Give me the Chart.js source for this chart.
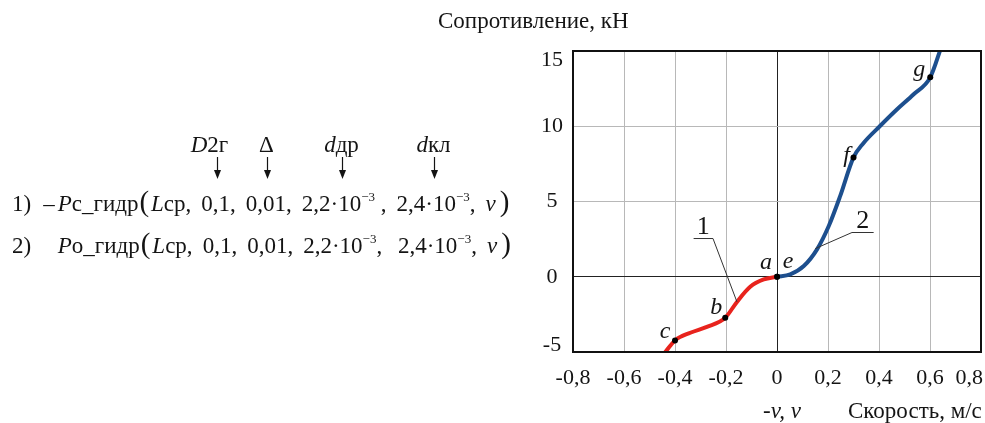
<!DOCTYPE html>
<html>
<head>
<meta charset="utf-8">
<script src="https://cdn.jsdelivr.net/npm/chart.js@4.4.1/dist/chart.umd.min.js"></script>
<style>
  body { margin: 0; background: #fff; }
  #hoja { position: relative; width: 985px; height: 423px; overflow: hidden;
          font-family: "Liberation Serif", "Times New Roman", serif; color: #141414; }
  #graf { position: absolute; left: 0; top: 0; }
  .fila { position: absolute; left: 12px; display: flex; align-items: baseline;
          font-size: 23px; line-height: 23px; white-space: pre; }
  .fila span { margin-left: 10px; }
  .fila span.pegado { margin-left: 0; }
  .fila .p { font-size: 29px; margin-left: 1px; }
  .oculto { visibility: hidden; }
  .cab { position: absolute; top: 133px; font-size: 23px; line-height: 23px; white-space: pre;
         transform: translateX(-50%); }
  sup { font-size: 13px; vertical-align: 10px; line-height: 0; }
  svg { position: absolute; left: 0; top: 0; }
</style>
</head>
<body>
<div id="hoja">
  <canvas id="graf" width="985" height="423"></canvas>

  <!-- строка 1 -->
  <div class="fila" id="fila1" style="top:190px">
    <span class="pegado">1)</span><span style="margin-left:12px">–</span><span style="margin-left:3px"><i>P</i>с_гидр</span><span class="p">(</span><span style="margin-left:2px"><i>L</i>ср,</span><span class="arg">0,1,</span><span class="arg">0,01,</span><span class="arg">2,2·10<sup>−3</sup> ,</span><span class="arg">2,4·10<sup>−3</sup>,</span><span><i>v</i></span><span class="p" style="margin-left:4px">)</span>
  </div>
  <!-- строка 2 -->
  <div class="fila" id="fila2" style="top:232px">
    <span class="pegado">2)</span><span class="oculto" style="margin-left:12px">–</span><span style="margin-left:3px"><i>P</i>о_гидр</span><span class="p">(</span><span style="margin-left:2px"><i>L</i>ср,</span><span>0,1,</span><span>0,01,</span><span>2,2·10<sup>−3</sup>,</span><span>2,4·10<sup>−3</sup>,</span><span><i>v</i></span><span class="p" style="margin-left:4px">)</span>
  </div>

  <!-- параметры функций над аргументами -->
  <div class="cab"><i>D</i>2г</div>
  <div class="cab">Δ</div>
  <div class="cab"><i>d</i>др</div>
  <div class="cab"><i>d</i>кл</div>
  <svg id="flechas" width="520" height="423"></svg>
</div>

<script>
// Кривая 1 — сопротивление при обратном ходе (-v), кН
var velRojo    = [-0.45, -0.438, -0.40, -0.34, -0.275, -0.203, -0.157, -0.105, -0.052, 0];
var fuerzaRojo = [-5.24, -5.0, -4.23, -3.72, -3.33, -2.72, -1.67, -0.67, -0.18, 0];
var letrasRojo = [null, null, "c", null, null, "b", null, null, null, "a"];

// Кривая 2 — сопротивление при прямом ходе (v), кН
var velAzul    = [0, 0.052, 0.105, 0.157, 0.203, 0.248, 0.300, 0.338, 0.403, 0.471, 0.536, 0.601, 0.645];
var fuerzaAzul = [0, 0.16, 0.71, 1.82, 3.37, 5.37, 7.93, 8.86, 10.0, 11.13, 12.13, 13.25, 15.3];
var letrasAzul = ["e", null, null, null, null, null, "f", null, null, null, null, "g", null];

// Деления осей
var ticksX = [-0.8, -0.6, -0.4, -0.2, 0, 0.2, 0.4, 0.6, 0.8];
var ticksY = [-5, 0, 5, 10, 15];

// Выноски с номерами кривых: точка на кривой, излом, конец полки
var vinNumeros = ["1", "2"];
var vinCurvaX  = [-0.157, 0.150];
var vinCurvaY  = [-1.67, 1.87];
var vinCodoX   = [-0.251, 0.294];
var vinCodoY   = [2.54, 2.94];
var vinFinX    = [-0.327, 0.379];

var serif = "'Liberation Serif', 'Times New Roman', serif";

// Вторая строка выравнивается по первой, заголовки и стрелки — над аргументами
(function () {
  var hoja = document.getElementById("hoja").getBoundingClientRect();
  var f1 = document.querySelectorAll("#fila1 > span");
  var f2 = document.querySelectorAll("#fila2 > span");
  f1.forEach(function (el, i) {
    f2[i].style.minWidth = el.getBoundingClientRect().width + "px";
  });

  var args = document.querySelectorAll("#fila1 .arg");
  var cabs = document.querySelectorAll(".cab");
  var svg = document.getElementById("flechas");
  var html = "";
  args.forEach(function (el, i) {
    var r = el.getBoundingClientRect();
    var cx = Math.round(r.left - hoja.left + r.width / 2 - 2) + 0.5;
    cabs[i].style.left = (cx - (i === 0 ? 8 : 1)) + "px";
    html += '<line x1="' + cx + '" y1="157" x2="' + cx + '" y2="173" stroke="#141414" stroke-width="1.2"/>' +
            '<path d="M' + (cx - 3.5) + ' 170 L' + cx + ' 179 L' + (cx + 3.5) + ' 170 Z" fill="#141414"/>';
  });
  svg.innerHTML = html;
})();

function puntos(xs, ys) {
  return xs.map(function (x, i) { return { x: x, y: ys[i] }; });
}
function radios(letras) {
  return letras.map(function (l) { return l ? 3 : 0; });
}
function formatoComa(v) {
  if (Math.abs(v) < 1e-9) return "0";
  return (Math.round(v * 10) / 10).toFixed(1).replace(".", ",");
}

// Подписи делений: крайние прижаты внутрь, чтобы не вылезали за холст
var subtitulos = {
  id: "subtitulos",
  afterDraw: function (chart) {
    var c = chart.ctx, a = chart.chartArea;
    var sx = chart.scales.x, sy = chart.scales.y;
    c.save();
    c.fillStyle = "#141414";
    c.font = "22px " + serif;
    c.textBaseline = "middle";
    c.textAlign = "center";
    sx.ticks.forEach(function (t) {
      var txt = formatoComa(t.value);
      var w = c.measureText(txt).width;
      var px = Math.min(sx.getPixelForValue(t.value), chart.width - 2 - w / 2);
      c.fillText(txt, px, a.bottom + 26);
    });
    sy.ticks.forEach(function (t) {
      var py = sy.getPixelForValue(t.value);
      py = Math.max(a.top + 9, Math.min(a.bottom - 7, py));
      c.fillText(String(t.value), a.left - 21, py);
    });
    c.restore();
  }
};

// Рамка, подписи осей, буквы точек и выноски
var extras = {
  id: "extras",
  afterDraw: function (chart) {
    var c = chart.ctx, a = chart.chartArea;
    var sx = chart.scales.x, sy = chart.scales.y;
    c.save();
    c.strokeStyle = "#111";
    c.lineWidth = 2;
    c.strokeRect(a.left, a.top, a.right - a.left, a.bottom - a.top);

    c.fillStyle = "#141414";
    c.textBaseline = "alphabetic";
    c.textAlign = "left";
    c.font = "23px " + serif;
    c.fillText("Сопротивление, кН", a.left - 135, a.top - 23);
    c.fillText("Скорость, м/с", a.left + 275, a.bottom + 66);
    c.font = "italic 23px " + serif;
    c.fillText("-v, v", a.left + 190, a.bottom + 66);

    // выноски
    c.strokeStyle = "#333";
    c.lineWidth = 1;
    c.font = "26px " + serif;
    c.textAlign = "center";
    vinNumeros.forEach(function (n, i) {
      var x0 = sx.getPixelForValue(vinCurvaX[i]), y0 = sy.getPixelForValue(vinCurvaY[i]);
      var x1 = sx.getPixelForValue(vinCodoX[i]), y1 = sy.getPixelForValue(vinCodoY[i]);
      var x2 = sx.getPixelForValue(vinFinX[i]);
      c.beginPath();
      c.moveTo(x0, y0); c.lineTo(x1, y1); c.lineTo(x2, y1);
      c.stroke();
      c.fillText(n, (x1 + x2) / 2, y1 - 5);
    });

    // буквы у отмеченных точек
    c.font = "italic 24px " + serif;
    var desp = { a: [-11, -8], b: [-9, -4], c: [-10, -2], e: [11, -9], f: [-7, 5], g: [-11, -1] };
    [[velRojo, fuerzaRojo, letrasRojo], [velAzul, fuerzaAzul, letrasAzul]].forEach(function (s) {
      s[2].forEach(function (l, i) {
        if (!l) return;
        var px = sx.getPixelForValue(s[0][i]), py = sy.getPixelForValue(s[1][i]);
        c.fillText(l, px + desp[l][0], py + desp[l][1]);
      });
    });
    c.restore();
  }
};

function colorRejilla(c) {
  return c.tick && c.tick.value === 0 ? "#222" : "#b8b8b8";
}

var ctx = document.getElementById("graf").getContext("2d");

var graf = new Chart(ctx, {
  type: "scatter",
  data: {
    datasets: [
      {
        data: puntos(velRojo, fuerzaRojo),
        showLine: true,
        borderColor: "#e8231d",
        borderWidth: 4,
        cubicInterpolationMode: "monotone",
        pointRadius: radios(letrasRojo),
        pointBackgroundColor: "#000",
        pointBorderWidth: 0
      },
      {
        data: puntos(velAzul, fuerzaAzul),
        showLine: true,
        borderColor: "#1d4f8e",
        borderWidth: 4,
        cubicInterpolationMode: "monotone",
        pointRadius: radios(letrasAzul),
        pointBackgroundColor: "#000",
        pointBorderWidth: 0
      }
    ]
  },
  options: {
    responsive: false,
    animation: false,
    events: [],
    layout: { padding: { left: 520, top: 51, right: 3, bottom: 0 } },
    plugins: { legend: { display: false }, tooltip: { enabled: false } },
    scales: {
      x: {
        type: "linear",
        min: ticksX[0],
        max: ticksX[ticksX.length - 1],
        afterBuildTicks: function (s) { s.ticks = ticksX.map(function (v) { return { value: v }; }); },
        ticks: { display: false },
        grid: { drawTicks: false, lineWidth: 1, color: colorRejilla },
        border: { display: false },
        afterFit: function (s) { s.height = 71; s.paddingLeft = 0; s.paddingRight = 0; }
      },
      y: {
        type: "linear",
        min: ticksY[0],
        max: ticksY[ticksY.length - 1],
        afterBuildTicks: function (s) { s.ticks = ticksY.map(function (v) { return { value: v }; }); },
        ticks: { display: false },
        grid: { drawTicks: false, lineWidth: 1, color: colorRejilla },
        border: { display: false },
        afterFit: function (s) { s.width = 53; s.paddingTop = 0; s.paddingBottom = 0; }
      }
    }
  },
  plugins: [subtitulos, extras]
});
</script>
</body>
</html>
